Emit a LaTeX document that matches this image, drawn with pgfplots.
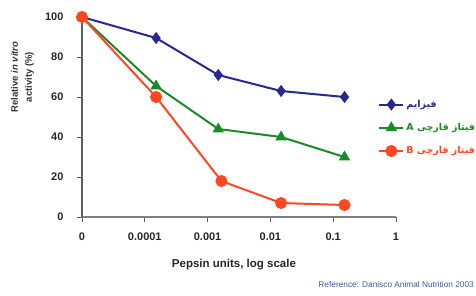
\documentclass[border=0pt]{standalone}
\usepackage{pgfplots}
\pgfplotsset{compat=1.18}
\usepackage{fontspec}
\setmainfont{Liberation Sans}
\newfontfamily\arabicfont[Script=Arabic]{DejaVu Sans}
\TeXXeTstate=1
\definecolor{cblue}{RGB}{40,40,145}
\definecolor{cgreen}{RGB}{25,140,40}
\definecolor{cred}{RGB}{255,72,35}
\definecolor{axgray}{RGB}{95,95,95}
\definecolor{refblue}{RGB}{60,90,160}
\begin{document}
\begin{tikzpicture}
\useasboundingbox (0,0) rectangle (476pt,-295pt);
\begin{axis}[
  at={(82pt,-217pt)}, anchor=south west,
  scale only axis, width=314pt, height=200pt,
  xmin=0, xmax=5, ymin=0, ymax=100,
  clip=false,
  axis x line=bottom, axis y line=left,
  x axis line style={-, draw=axgray!80, line width=1.3pt},
  y axis line style={-, draw=axgray, line width=1.8pt},
  xtick={0,1,2,3,4,5},
  xticklabels={0,0.0001,0.001,0.01,0.1,1},
  ytick={0,20,40,60,80,100},
  tick align=outside,
  major tick length=5pt,
  tick style={draw=axgray, line width=0.8pt},
  /pgf/number format/assume math mode=true,
  ticklabel style={font=\bfseries\fontsize{11}{13}\selectfont, text=black!85},
  yticklabel style={xshift=-10pt},
  xticklabel style={yshift=-7pt},
  xlabel={Pepsin units, log scale},
  xlabel style={at={(axis description cs:0.484,-0.24)}, anchor=center, font=\bfseries\fontsize{11.5}{13}\selectfont, text=black!85},
  ylabel={Relative \textit{in vitro}\\activity (\%)},
  ylabel style={at={(axis description cs:-0.19,0.70)}, anchor=center, align=center, font=\bfseries\fontsize{9.5}{14}\selectfont, text=black!80},
  legend style={at={(axis description cs:0.94,0.60)}, anchor=north west, draw=none, fill=none, row sep=10.5pt, inner sep=1pt},
  legend cell align=left,
  legend image code/.code={\draw[mark repeat=2,mark phase=2] plot coordinates {(0pt,0pt) (12pt,0pt) (24pt,0pt)};},
  every axis plot/.append style={line width=2pt},
]
\addplot[color=cblue, mark=diamond*, mark size=4.5pt] coordinates {
  (0,100) (1.18,89.5) (2.17,71) (3.17,63) (4.18,60)
};
\addlegendentry{\textcolor{cblue}{\arabicfont\bfseries\fontsize{9.5}{12}\selectfont\beginR فیزایم\endR}}
\addplot[color=cgreen, mark=triangle*, mark size=4.5pt] coordinates {
  (0,100) (1.18,65.5) (2.17,44) (3.17,40) (4.18,30)
};
\addlegendentry{\textcolor{cgreen}{\arabicfont\bfseries\fontsize{9.5}{12}\selectfont\beginR فیتاز قارچی A\endR}}
\addplot[color=cred, mark=*, mark size=5pt] coordinates {
  (0,100) (1.18,60) (2.22,18) (3.17,7) (4.18,6)
};
\addlegendentry{\textcolor{cred}{\arabicfont\bfseries\fontsize{9.5}{12}\selectfont\beginR فیتاز قارچی B\endR}}
\end{axis}
\node[anchor=east, font=\fontsize{8.3}{9}\selectfont, text=refblue, inner sep=0pt] at (474pt,-285pt) {Reference: Danisco Animal Nutrition 2003};
\end{tikzpicture}
\end{document}
